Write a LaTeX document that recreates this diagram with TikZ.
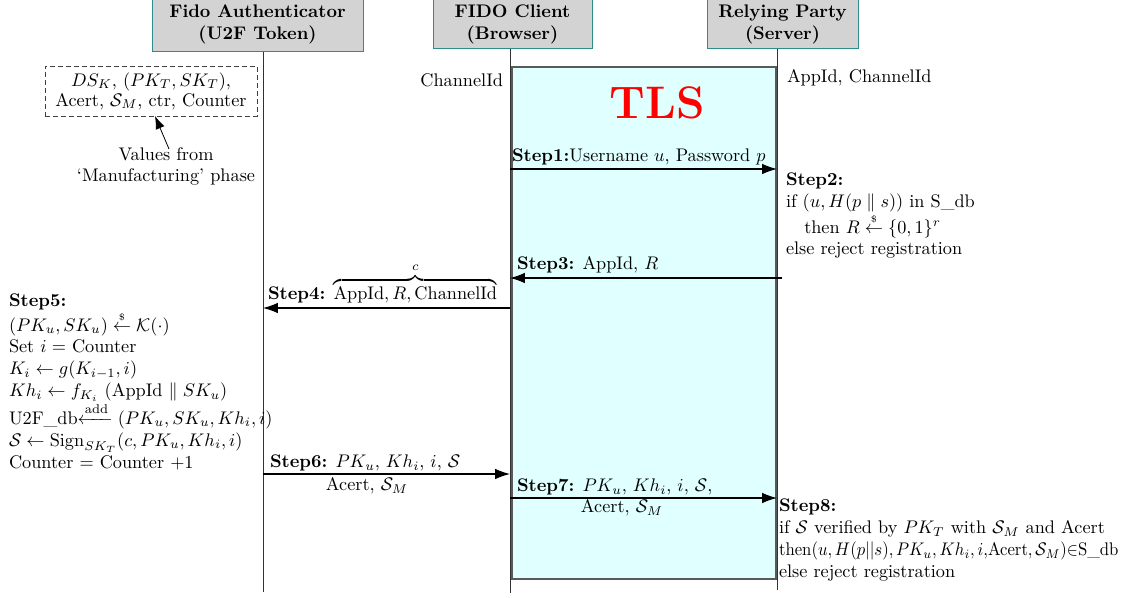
\documentclass[tikz,border=0pt]{standalone}
\usepackage{amsmath,amssymb}
\usepackage{graphicx}
\usetikzlibrary{arrows.meta}
\definecolor{hdrfill}{RGB}{211,211,211}
\definecolor{hdrline}{RGB}{45,140,140}
\definecolor{tlsfill}{RGB}{224,255,255}
\definecolor{tlsline}{RGB}{90,90,90}
\definecolor{lifeline}{RGB}{50,50,50}
\newdimen\pxu
\pxu=0.548pt
\newcommand{\rndarrow}{\stackrel{\scriptscriptstyle\$}{\leftarrow}}
\begin{document}
\begin{tikzpicture}[x=\pxu,y=-\pxu,
  every node/.style={font=\normalsize, inner sep=0pt, outer sep=0pt},
  header/.style={draw=hdrline, fill=hdrfill, line width=1\pxu, align=center, font=\normalsize\bfseries},
  life/.style={draw=lifeline, line width=1\pxu},
  msg/.style={line width=1.1\pxu, -{Latex[length=8.2pt,width=5.8pt]}},
  lbl/.style={anchor=base west},
  blk/.style={anchor=north west, align=left},
]
\useasboundingbox (0,0) rectangle (1129,598);
\clip (0,0) rectangle (1129,598);

% TLS box
\node[draw=tlsline, fill=tlsfill, line width=1.2\pxu, minimum width=264\pxu, minimum height=512\pxu, anchor=north west] (tls) at (512,67) {};
\node[text=red, font=\fontsize{25}{30}\selectfont\bfseries] (tlst) at (657,103) {TLS};

% headers
\node[header, minimum width=211\pxu, minimum height=56\pxu] (auth) at (257.5,24) {Fido Authenticator\\(U2F Token)};
\node[header, minimum width=159\pxu, minimum height=50\pxu] (client) at (512.5,24) {FIDO Client\\(Browser)};
\node[header, minimum width=151\pxu, minimum height=50\pxu] (rp) at (782.5,24) {Relying Party\\(Server)};

% lifelines
\coordinate (authEnd) at (263,592);
\coordinate (clientEnd) at (510,593);
\coordinate (rpEnd) at (777.5,590);
\draw[life] (auth.south -| authEnd) -- (authEnd);
\draw[life] (client.south -| clientEnd) -- (clientEnd);
\draw[life] (rp.south -| rpEnd) -- (rpEnd);

% manufacturing values
\node[draw=black!75, dash pattern=on 5\pxu off 3\pxu, line width=0.9\pxu, minimum width=212\pxu, minimum height=50\pxu, align=center, font=\fontsize{10}{11}\selectfont] (ds) at (151,91) {$DS_K$, $(PK_T, SK_T)$,\\Acert, $\mathcal{S}_M$, ctr, Counter};
\node[align=center, font=\fontsize{10}{11.5}\selectfont] (vals) at (166,166) {Values from\\`Manufacturing' phase};
\coordinate (valsTail) at (169,149);
\coordinate (valsTip) at (155,116);
\draw[line width=0.8\pxu, -{Latex[length=7.1pt,width=5.2pt]}] (valsTail) -- (valsTip);

\node[anchor=base east] (chid) at (503,87) {ChannelId};
\node[lbl] (appch) at (787,83) {AppId, ChannelId};

% Step 1
\coordinate (s1a) at (510,169);
\coordinate (s1b) at (777,169);
\draw[msg] (s1a) -- (s1b);
\node[lbl] (l1) at (512,162) {\textbf{Step1:}Username $u$, Password $p$};

% Step 2
\node[blk] (l2) at (786,173) {\textbf{Step2:}\\
if $(u,H(p\parallel s))$ in S\_db\\
\hspace{1em}then $R \rndarrow \{0,1\}^r$\\
else reject registration};

% Step 3
\coordinate (s3a) at (782,278);
\coordinate (s3b) at (510,278);
\draw[msg] (s3a) -- (s3b);
\node[lbl] (l3) at (517,270) {\textbf{Step3:} AppId, $R$};

% Step 4
\coordinate (s4a) at (510,308);
\coordinate (s4b) at (263,308);
\draw[msg] (s4a) -- (s4b);
\node[lbl] (l4) at (268,300) {\textbf{Step4:} $\overbrace{\text{AppId}, R, \text{ChannelId}}^{c}$};

% Step 5
\node[blk] (l5) at (9,294) {\textbf{Step5:}\\
$(PK_u, SK_u) \rndarrow \mathcal{K}(\cdot)$\\
Set $i =$ Counter\\
$K_i \leftarrow g(K_{i-1}, i)$\\
$Kh_i \leftarrow f_{K_i}$ (AppId $\parallel SK_u$)\\
U2F\_db$\xleftarrow{\text{add}} (PK_u, SK_u, Kh_i, i)$\\
$\mathcal{S} \leftarrow \mathrm{Sign}_{SK_T}(c, PK_u, Kh_i, i)$\\
Counter = Counter +1};

% Step 6
\coordinate (s6a) at (263,474);
\coordinate (s6b) at (510,474);
\draw[msg] (s6a) -- (s6b);
\node[lbl] (l6) at (270,468) {\textbf{Step6:} $PK_u$, $Kh_i$, $i$, $\mathcal{S}$};
\node[anchor=base] (l6b) at (367,491) {Acert, $\mathcal{S}_M$};

% Step 7
\coordinate (s7a) at (510,498);
\coordinate (s7b) at (777,498);
\draw[msg] (s7a) -- (s7b);
\node[lbl] (l7) at (517,492) {\textbf{Step7:} $PK_u$, $Kh_i$, $i$, $\mathcal{S}$,};
\node[anchor=base] (l7b) at (622,513) {Acert, $\mathcal{S}_M$};

% Step 8
\node[blk] (l8) at (779,499) {\textbf{Step8:}\\
if $\mathcal{S}$ verified by $PK_T$ with $\mathcal{S}_M$ and Acert\\
\resizebox{186pt}{\height}{then$(u,H(p||s),PK_u,Kh_i,i,$Acert$,\mathcal{S}_M)\mathord{\in}$S\_db}\\
else reject registration};
\end{tikzpicture}
\end{document}
